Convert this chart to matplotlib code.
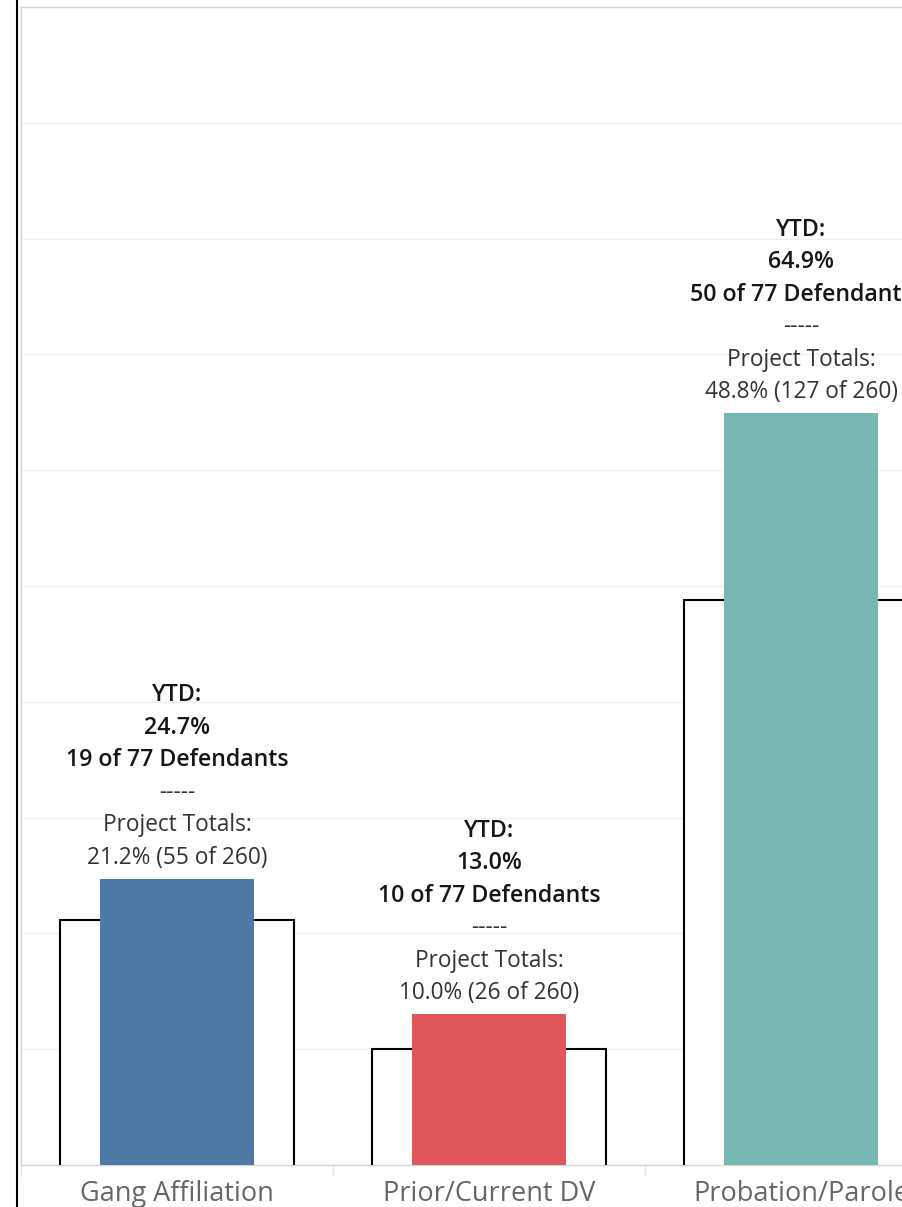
import numpy as np
import matplotlib.pyplot as plt
from matplotlib.lines import Line2D

# Daten
categories = ['Gang Affiliation', 'Prior/Current DV', 'Probation/Parole']
ytd_pct = [24.7, 13.0, 64.9]
ytd_count = [19, 10, 50]
ytd_total = 77
proj_pct = [21.2, 10.0, 48.8]
proj_count = [55, 26, 127]
proj_total = 260
colors = ['#4e79a7', '#e15759', '#76b7b2']

plt.rcParams['font.family'] = ['Open Sans', 'DejaVu Sans']

fig = plt.figure(figsize=(9.03, 12.07), dpi=100)
ax = fig.add_axes([21 / 903, 42 / 1207, 936 / 903, 1158 / 1207])

x = np.arange(len(categories))
outline_w = 0.75
bar_w = 0.494

# Projekt-Summen als Rahmen (ohne Unterkante)
ax.bar(x, proj_pct, width=outline_w, color='white', zorder=2)
for xi, p in zip(x, proj_pct):
    ax.plot([xi - outline_w / 2, xi - outline_w / 2, xi + outline_w / 2, xi + outline_w / 2],
            [0, p, p, 0], color='black', lw=1.5, zorder=3, solid_joinstyle='miter')

# YTD-Balken
ax.bar(x, ytd_pct, width=bar_w, color=colors, zorder=4)

# Beschriftungen
px = 72 / 100  # Pixel -> Punkte
for xi, yp, yc, pp, pc in zip(x, ytd_pct, ytd_count, proj_pct, proj_count):
    lines = [
        ('YTD:', '#161616', 'semibold', 16.7),
        (f'{yp:.1f}%', '#161616', 'semibold', 16.7),
        (f'{yc} of {ytd_total} Defendants', '#161616', 'semibold', 16.7),
        ('-----', '#333333', 'normal', 16.3),
        ('Project Totals:', '#333333', 'normal', 16.3),
        (f'{pp:.1f}% ({pc} of {proj_total})', '#333333', 'normal', 16.3),
    ]
    for k, (txt, c, w, fs) in enumerate(reversed(lines)):
        ax.annotate(txt, (xi, yp), xytext=(0, (15 + 32.5 * k) * px),
                    textcoords='offset points', ha='center', va='baseline',
                    fontsize=fs, color=c, fontweight=w, zorder=5,
                    annotation_clip=False)

ax.set_xlim(-0.5, len(categories) - 0.5)
ax.set_ylim(0, 100)
ax.set_yticks(np.arange(0, 101, 10))
ax.yaxis.grid(True, color='#f0f0f0', lw=1)
ax.set_axisbelow(True)
ax.tick_params(axis='y', left=False, labelleft=False)

ax.set_xticks(x)
ax.set_xticklabels(categories, fontsize=19.5, color='#666666')
ax.tick_params(axis='x', length=0, pad=11)
ax.set_xticks(np.arange(-0.5, len(categories), 1), minor=True)
ax.tick_params(axis='x', which='minor', length=8, color='#e6e6e6', width=1)

for s in ['left', 'top', 'bottom']:
    ax.spines[s].set_color('#d4d4d4')
    ax.spines[s].set_linewidth(1)
ax.spines['right'].set_visible(False)

fig.add_artist(Line2D([16.7 / 903, 16.7 / 903], [0, 1], color='black', lw=1.5,
                      transform=fig.transFigure))

fig.savefig('out.png', dpi=100)
